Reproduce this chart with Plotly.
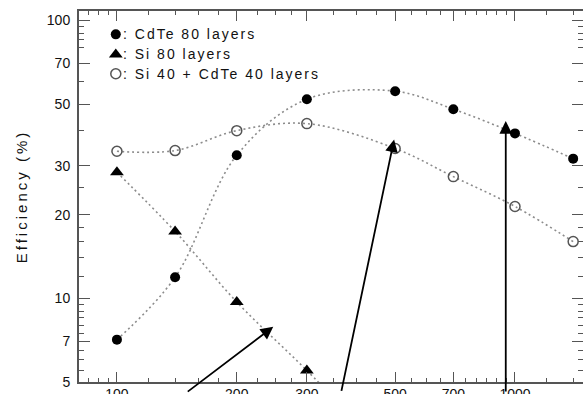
import math
import plotly.graph_objects as go

# Energy grid (keV) and efficiencies (%) for the three stack configurations
energy = [100, 140, 200, 300, 500, 700, 1000, 1400]
cdte80 = [7.1, 11.9, 32.7, 52.0, 55.6, 47.9, 39.2, 31.8]
si80_energy = [100, 140, 200, 300, 500]
si80 = [28.4, 17.4, 9.7, 5.5, 2.6]
mixed = [33.8, 34.0, 40.1, 42.5, 34.6, 27.4, 21.4, 16.0]

series_names = ["CdTe 80 layers", "Si 80 layers", "Si 40 + CdTe 40 layers"]

# Axis ticks
x_major = [100, 200, 300, 500, 700, 1000]
x_minor = [85, 90, 95, 120, 140, 160, 180, 225, 250, 275, 350, 400, 450,
           550, 600, 650, 750, 800, 850, 900, 950, 1200, 1400]
y_major = [5, 7, 10, 20, 30, 50, 70, 100]
y_minor = [5.5, 6, 6.5, 7.5, 8, 8.5, 9, 9.5, 12, 14, 16, 18, 25, 40, 60,
           80, 85, 90, 95]

# Arrow tips (keV, %) and tail offsets (px)
arrow_tips = [(247, 7.9), (497, 37.3), (948, 43.4)]
arrow_tails = [(-87, 66), (-53, 253), (0, 272)]

LINE = dict(color="#8c8c8c", width=1.6, dash="2px,3px", shape="spline", smoothing=1.0)
FONT = "Liberation Sans, Arial, sans-serif"

fig = go.Figure()

fig.add_trace(go.Scatter(x=energy, y=cdte80, mode="lines+markers", line=LINE,
                         marker=dict(symbol="circle", size=10, color="black"),
                         showlegend=False))
fig.add_trace(go.Scatter(x=si80_energy, y=si80, mode="lines+markers", line=LINE,
                         marker=dict(symbol="triangle-up", size=12, color="black"),
                         showlegend=False))
fig.add_trace(go.Scatter(x=energy, y=mixed, mode="lines+markers", line=LINE,
                         marker=dict(symbol="circle-open", size=10, color="#555555",
                                     line=dict(width=1.5, color="#555555")),
                         showlegend=False))

# Legend keys drawn on an overlaid unit axis
key_symbols = [dict(symbol="circle", size=10, color="black"),
               dict(symbol="triangle-up", size=12, color="black"),
               dict(symbol="circle-open", size=10, color="#555555",
                    line=dict(width=1.5, color="#555555"))]
key_y = [0.937, 0.883, 0.831]
for sym, ky in zip(key_symbols, key_y):
    fig.add_trace(go.Scatter(x=[0.073], y=[ky], mode="markers", marker=sym,
                             xaxis="x2", yaxis="y2", showlegend=False,
                             hoverinfo="skip"))

for name, ky in zip(series_names, key_y):
    fig.add_annotation(x=0.084, y=ky, xref="paper", yref="paper",
                       xanchor="left", yanchor="middle", showarrow=False,
                       text=f'<span style="letter-spacing:2px">: {name}</span>',
                       font=dict(family=FONT, size=14, color="#111111"))

# Annotation positions on log axes are given in log10 units
for (tx, ty), (ax, ay) in zip(arrow_tips, arrow_tails):
    fig.add_annotation(x=math.log10(tx), y=math.log10(ty), xref="x", yref="y",
                       text="", showarrow=True, arrowhead=2, arrowsize=1.4,
                       arrowwidth=1.8, arrowcolor="black",
                       ax=ax, ay=ay, axref="pixel", ayref="pixel", standoff=0)

axis_common = dict(
    type="log", showgrid=False, zeroline=False, automargin=False,
    showline=True, linecolor="#555555", linewidth=2,
    mirror="ticks", ticks="inside", tickcolor="#555555", tickwidth=1.3,
    tickfont=dict(family=FONT, size=14, color="#111111"),
)

fig.update_layout(
    width=583, height=394,
    margin=dict(l=79, r=0, t=11, b=12),
    paper_bgcolor="white", plot_bgcolor="white",
    xaxis=dict(axis_common,
               range=[math.log10(80.3), math.log10(1482)],
               tickvals=x_major, ticktext=[str(v) for v in x_major],
               ticklen=10, ticklabelstandoff=-2,
               minor=dict(tickvals=x_minor, ticks="inside", ticklen=4,
                          tickcolor="#555555", tickwidth=1)),
    yaxis=dict(axis_common,
               range=[math.log10(5), 2.0335],
               tickvals=y_major, ticktext=[str(v) for v in y_major],
               ticklen=11, ticklabelstandoff=4,
               minor=dict(tickvals=y_minor, ticks="inside", ticklen=5,
                          tickcolor="#555555", tickwidth=1),
               title=dict(text='<span style="letter-spacing:3px">Efficiency (%)</span>',
                          font=dict(family=FONT, size=15, color="#111111"),
                          standoff=16)),
    xaxis2=dict(overlaying="x", range=[0, 1], visible=False),
    yaxis2=dict(overlaying="y", range=[0, 1], visible=False),
)

fig.write_html("out.html")
